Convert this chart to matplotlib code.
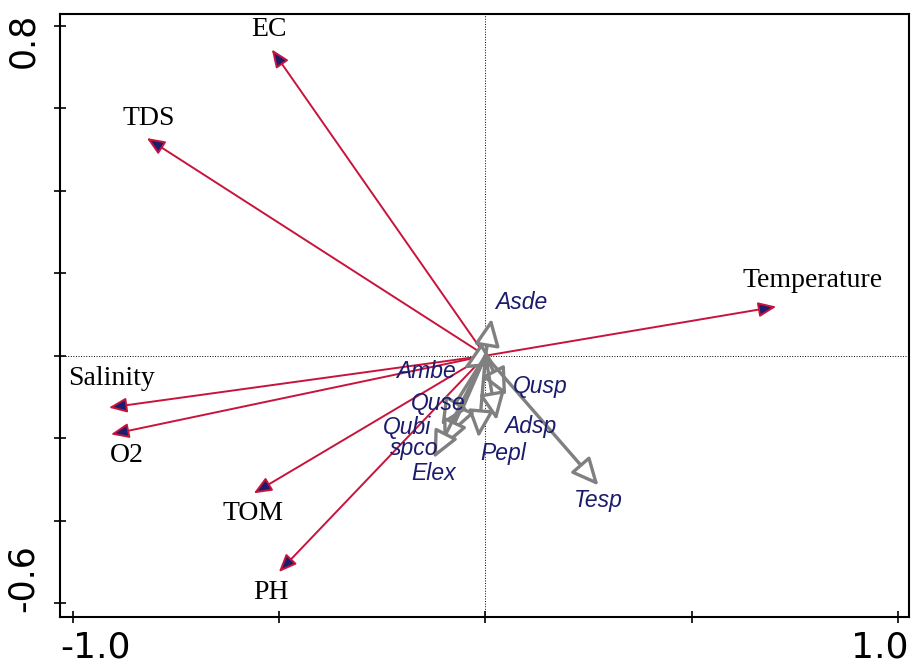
import numpy as np
import matplotlib
matplotlib.use('Agg')
import matplotlib.pyplot as plt
from matplotlib.transforms import ScaledTranslation

# environmental variables (arrow tips)
env_names = ['EC', 'TDS', 'Temperature', 'Salinity', 'O2', 'TOM', 'PH']
env_x = [-0.518, -0.821, 0.705, -0.913, -0.908, -0.562, -0.501]
env_y = [0.743, 0.528, 0.119, -0.126, -0.191, -0.334, -0.525]

# species (arrow tips)
sp_names = ['Asde', 'Ambe', 'Qusp', 'Adsp', 'Pepl', 'Tesp', 'Quse', 'Qubi', 'spco', 'Elex']
sp_x = [0.015, -0.053, 0.050, 0.027, -0.017, 0.274, -0.082, -0.107, -0.102, -0.126]
sp_y = [0.090, -0.031, -0.097, -0.157, -0.199, -0.315, -0.189, -0.170, -0.223, -0.249]

# label positions
env_lab_x = [-0.525, -0.816, 0.794, -0.906, -0.869, -0.564, -0.521]
env_lab_y = [0.792, 0.576, 0.182, -0.056, -0.242, -0.383, -0.574]
sp_lab_x = [0.087, -0.145, 0.133, 0.109, 0.044, 0.274, -0.114, -0.191, -0.174, -0.126]
sp_lab_y = [0.128, -0.039, -0.075, -0.172, -0.237, -0.351, -0.116, -0.174, -0.225, -0.286]

red = '#c8143c'
navy = '#1c1c6e'
grey = '#808080'

fig = plt.figure(figsize=(9.12, 6.63), dpi=100)
ax = fig.add_axes([0.0658, 0.0694, 0.9309, 0.9095])
ax.set_xlim(-1.0315, 1.0267)
ax.set_ylim(-0.634, 0.829)

ax.axhline(0, color='black', lw=0.7, ls=':', zorder=1)
ax.axvline(0, color='black', lw=0.7, ls=':', zorder=1)

# environmental arrows
for x, y in zip(env_x, env_y):
    ax.annotate('', xy=(x, y), xytext=(0, 0),
                arrowprops=dict(arrowstyle='-|>,head_length=0.6,head_width=0.25',
                                mutation_scale=18, fc=navy, ec=red, lw=1.4,
                                shrinkA=0, shrinkB=0), zorder=3)
for name, x, y in zip(env_names, env_lab_x, env_lab_y):
    ax.text(x, y, name, family='Liberation Serif', fontsize=20,
            ha='center', va='center', color='black', zorder=5)

# species arrows
for x, y in zip(sp_x, sp_y):
    ax.annotate('', xy=(x, y), xytext=(0, 0),
                arrowprops=dict(arrowstyle='-|>,head_length=0.75,head_width=0.35',
                                mutation_scale=22, fc='white', ec=grey, lw=2.4,
                                shrinkA=0, shrinkB=0), zorder=4)
for name, x, y in zip(sp_names, sp_lab_x, sp_lab_y):
    ax.text(x, y, name, family='Liberation Sans', style='italic', fontsize=16.5,
            ha='center', va='center', color=navy, zorder=6)

ax.set_xticks([-1.0, -0.5, 0.0, 0.5, 1.0])
ax.set_xticklabels(['-1.0', '', '', '', '1.0'])
ax.set_yticks([0.8, 0.6, 0.4, 0.2, 0.0, -0.2, -0.4, -0.6])
ax.set_yticklabels(['0.8', '', '', '', '', '', '', '-0.6'])
ax.tick_params(direction='inout', length=9, width=1.2)
ax.tick_params(axis='x', pad=5, labelsize=26)
ax.tick_params(axis='y', pad=10, labelsize=25)

# keep the outer tick labels inside the figure
xl = ax.get_xticklabels()
xl[0].set_ha('left')
xl[0].set_transform(xl[0].get_transform() + ScaledTranslation(-0.13, 0, fig.dpi_scale_trans))
xl[-1].set_ha('right')
xl[-1].set_transform(xl[-1].get_transform() + ScaledTranslation(0.11, 0, fig.dpi_scale_trans))
yl = ax.get_yticklabels()
for lab in yl:
    lab.set_rotation(90)
yl[0].set_va('top')
yl[0].set_transform(yl[0].get_transform() + ScaledTranslation(0, 0.13, fig.dpi_scale_trans))
yl[-1].set_va('bottom')
yl[-1].set_transform(yl[-1].get_transform() + ScaledTranslation(0, -0.09, fig.dpi_scale_trans))
for s in ax.spines.values():
    s.set_linewidth(1.5)

plt.savefig('out.png', dpi=100)
